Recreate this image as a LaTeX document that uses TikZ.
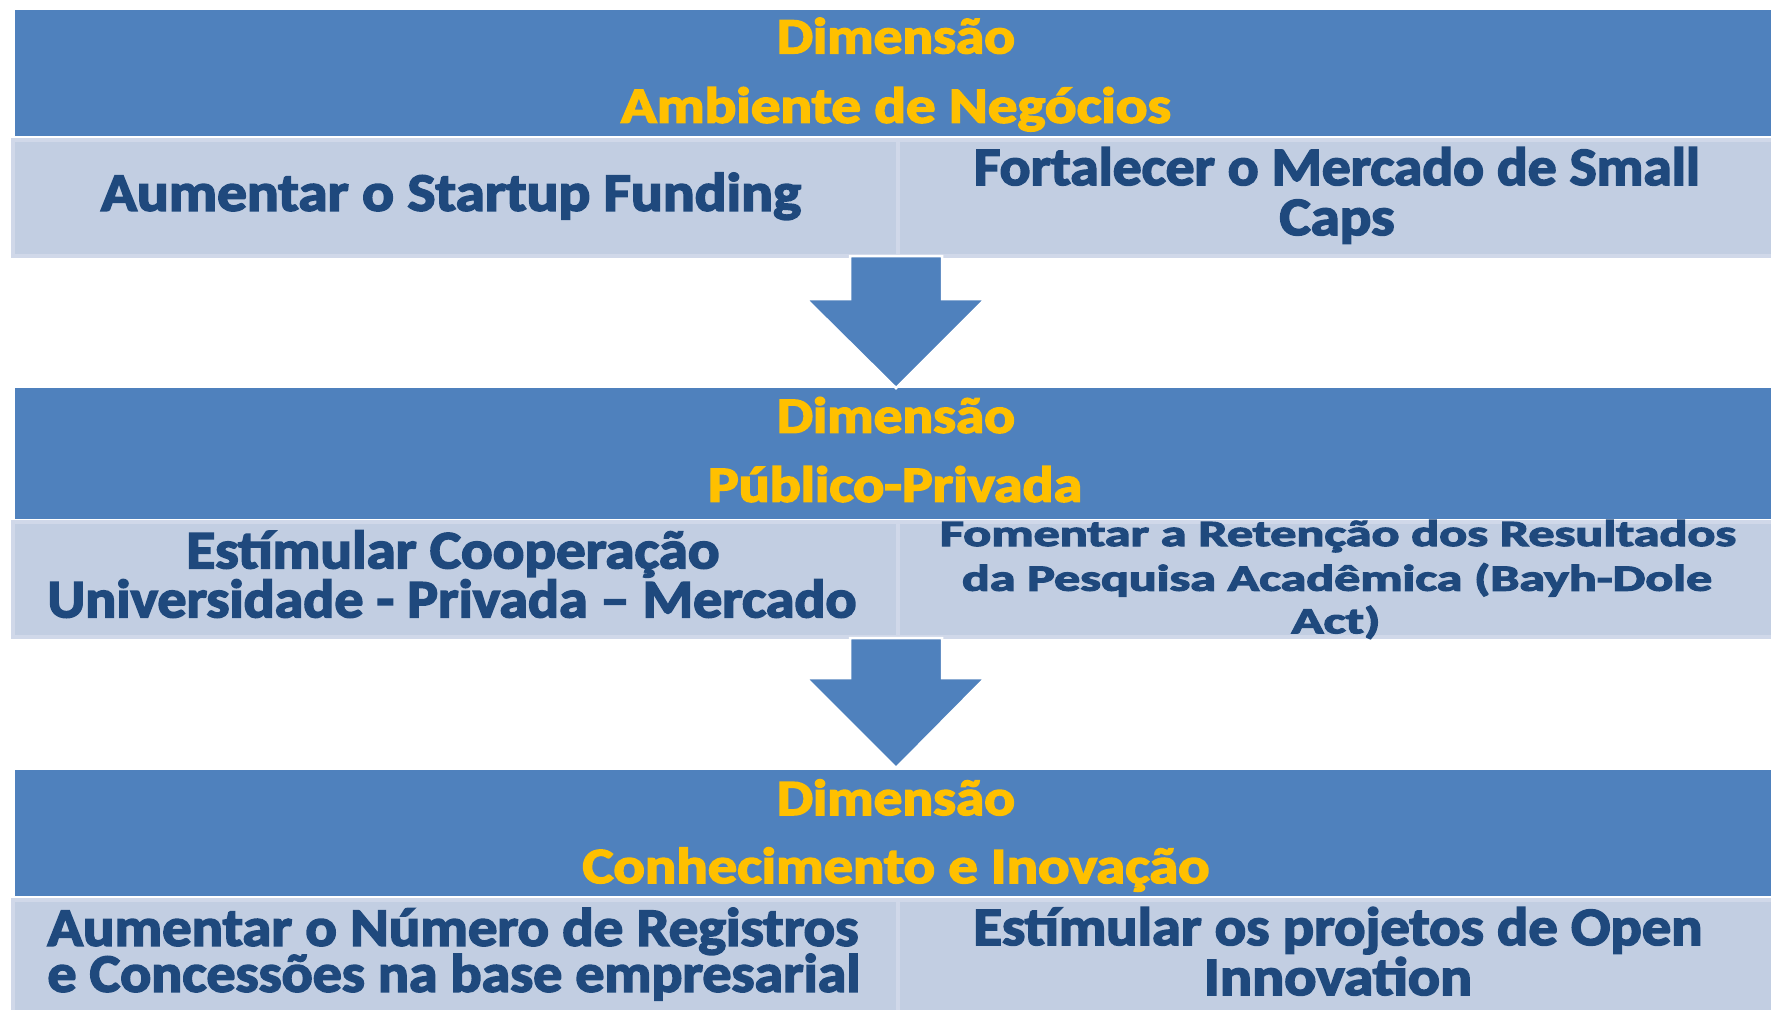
\documentclass[tikz,border=0pt]{standalone}
\usepackage{fontspec}
\setmainfont{Carlito}[BoldFeatures={FakeBold=3}]
\definecolor{bandblue}{HTML}{4F81BD}
\definecolor{dimyellow}{HTML}{FFC000}
\definecolor{darktext}{HTML}{1F497D}
\definecolor{cellfill}{HTML}{C2CEE2}
\definecolor{cellline}{HTML}{D0D8E9}
\newcommand\fitline[3]{\resizebox{#2pt}{\height}{\fontsize{#1}{#1}\selectfont\bfseries #3}}
\begin{document}
\begin{tikzpicture}[x=1pt,y=-1pt,
  band/.style={fill=bandblue, draw=none, anchor=north west, inner sep=0pt, minimum height=#1},
  cell/.style={fill=cellfill, draw=cellline, line width=4pt, anchor=north west, inner sep=0pt, minimum height=#1},
  dimtext/.style={anchor=base, inner sep=0pt, text=dimyellow},
  celltext/.style={anchor=base, inner sep=0pt, text=darktext},
  blockarrow/.style={fill=bandblue, draw=white, line width=2.5pt, line join=miter}]
\useasboundingbox (0,0) rectangle (1771,1009);
\fill[white] (0,0) rectangle (1771,1009);

% rows of cells
\node[cell=116pt, minimum width=885pt] (c1l) at (11,138) {};
\node[cell=116pt, minimum width=894pt] (c1r) at (896,138) {};
\node[cell=115pt, minimum width=885pt] (c2l) at (11,520) {};
\node[cell=115pt, minimum width=894pt] (c2r) at (896,520) {};
\node[cell=120pt, minimum width=885pt] (c3l) at (11,898) {};
\node[cell=120pt, minimum width=894pt] (c3r) at (896,898) {};

% cell texts
\node[celltext] (t1l) at (451,210.7) {\fitline{54}{700}{Aumentar o Startup Funding}};
\node[celltext] (t1ra) at (1337,185) {\fitline{54}{726}{Fortalecer o Mercado de Small}};
\node[celltext] (t1rb) at (1337,235) {\fitline{54}{115}{Caps}};

\node[celltext] (t2la) at (453,568.3) {\fitline{54}{533}{Estímular Cooperação}};
\node[celltext] (t2lb) at (452,617.3) {\fitline{54}{809}{Universidade - Privada – Mercado}};
\node[celltext] (t2ra) at (1338,546) {\fitline{37}{796}{Fomentar a Retenção dos Resultados}};
\node[celltext] (t2rb) at (1337,590.7) {\fitline{37}{750}{da Pesquisa Acadêmica (Bayh-Dole}};
\node[celltext] (t2rc) at (1336,633.3) {\fitline{37}{89}{Act)}};

\node[celltext] (t3la) at (453,945.7) {\fitline{54}{811}{Aumentar o Número de Registros}};
\node[celltext] (t3lb) at (454,991.7) {\fitline{54}{813}{e Concessões na base empresarial}};
\node[celltext] (t3ra) at (1338,945) {\fitline{54}{729}{Estímular os projetos de Open}};
\node[celltext] (t3rb) at (1338,995) {\fitline{54}{268}{Innovation}};

% dimension bands
\node[band=126.5pt, minimum width=1775pt] (b1) at (15,9.3) {};
\node[band=131pt, minimum width=1775pt] (b2) at (15,387.3) {};
\node[band=126pt, minimum width=1775pt] (b3) at (15,770) {};

\node[dimtext] (d1a) at (896,53.3) {\fitline{50.6}{238}{Dimensão}};
\node[dimtext] (d1b) at (896,122.7) {\fitline{50.6}{550}{Ambiente de Negócios}};
\node[dimtext] (d2a) at (896,432.7) {\fitline{50.6}{238}{Dimensão}};
\node[dimtext] (d2b) at (895,501.7) {\fitline{50.6}{374}{Público-Privada}};
\node[dimtext] (d3a) at (896,815) {\fitline{50.6}{238}{Dimensão}};
\node[dimtext] (d3b) at (896,883) {\fitline{50.6}{627}{Conhecimento e Inovação}};

% block arrows between the dimensions
\path[blockarrow] (850,256) -- (942,256) -- (942,299) -- (985,299) -- (896,388)
  -- (806,299) -- (850,299) -- cycle;
\path[blockarrow] (850,638) -- (942,638) -- (942,678) -- (985,678) -- (896,768)
  -- (806,678) -- (850,678) -- cycle;
\end{tikzpicture}
\end{document}
